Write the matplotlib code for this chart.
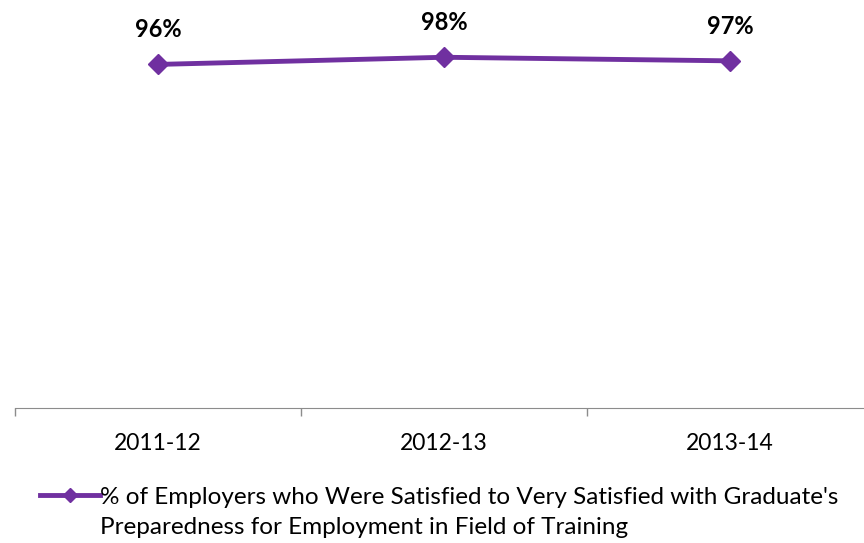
import matplotlib
matplotlib.use("Agg")
import matplotlib.pyplot as plt
import numpy as np

years = ["2011-12", "2012-13", "2013-14"]
satisfied = [96, 98, 97]
point_labels = ["96%", "98%", "97%"]
series_line1 = "% of Employers who Were Satisfied to Very Satisfied with Graduate's"
series_line2 = "Preparedness for Employment in Field of Training"

plt.rcParams['font.family'] = ['Lato', 'DejaVu Sans']
purple = '#7030A0'

fig = plt.figure(figsize=(8.64, 5.43), dpi=100)
# plot area runs a little past the right edge of the picture
ax = fig.add_axes([15 / 864, 135 / 543, 858 / 864, 408 / 543])

x = np.arange(len(years))
ax.plot(x, satisfied, color=purple, lw=3.5, marker='D', ms=10, label=series_line1)
for xi, v, lab in zip(x, satisfied, point_labels):
    ax.annotate(lab, (xi, v), xytext=(0, 25), textcoords='offset points',
                ha='center', va='center', fontsize=17, fontweight='bold')

ax.set_xlim(-0.5, 2.5)
ax.set_ylim(0, 114)
ax.set_yticks([])
ax.set_xticks(x)
ax.set_xticklabels(years, fontsize=16.5)
ax.tick_params(axis='x', which='major', length=0, pad=18)
ax.set_xticks([-0.5, 0.5, 1.5, 2.5], minor=True)
ax.tick_params(axis='x', which='minor', length=6, color='#8c8c8c', width=1)
for s in ['top', 'right', 'left']:
    ax.spines[s].set_visible(False)
ax.spines['bottom'].set_color('#8c8c8c')

leg = fig.legend(loc='center left', bbox_to_anchor=(40 / 864, 1 - 497 / 543), frameon=False,
                 fontsize=17.5, handlelength=2.45, handletextpad=0.0, borderpad=0,
                 borderaxespad=0, markerscale=0.75)

# second line of the legend entry, left aligned under the first
fig.canvas.draw()
bb = leg.get_texts()[0].get_window_extent()
fig.text(bb.x0 / 864, 1 - 528 / 543, series_line2, fontsize=17.5, ha='left', va='center')

fig.savefig('out.png', dpi=100)
